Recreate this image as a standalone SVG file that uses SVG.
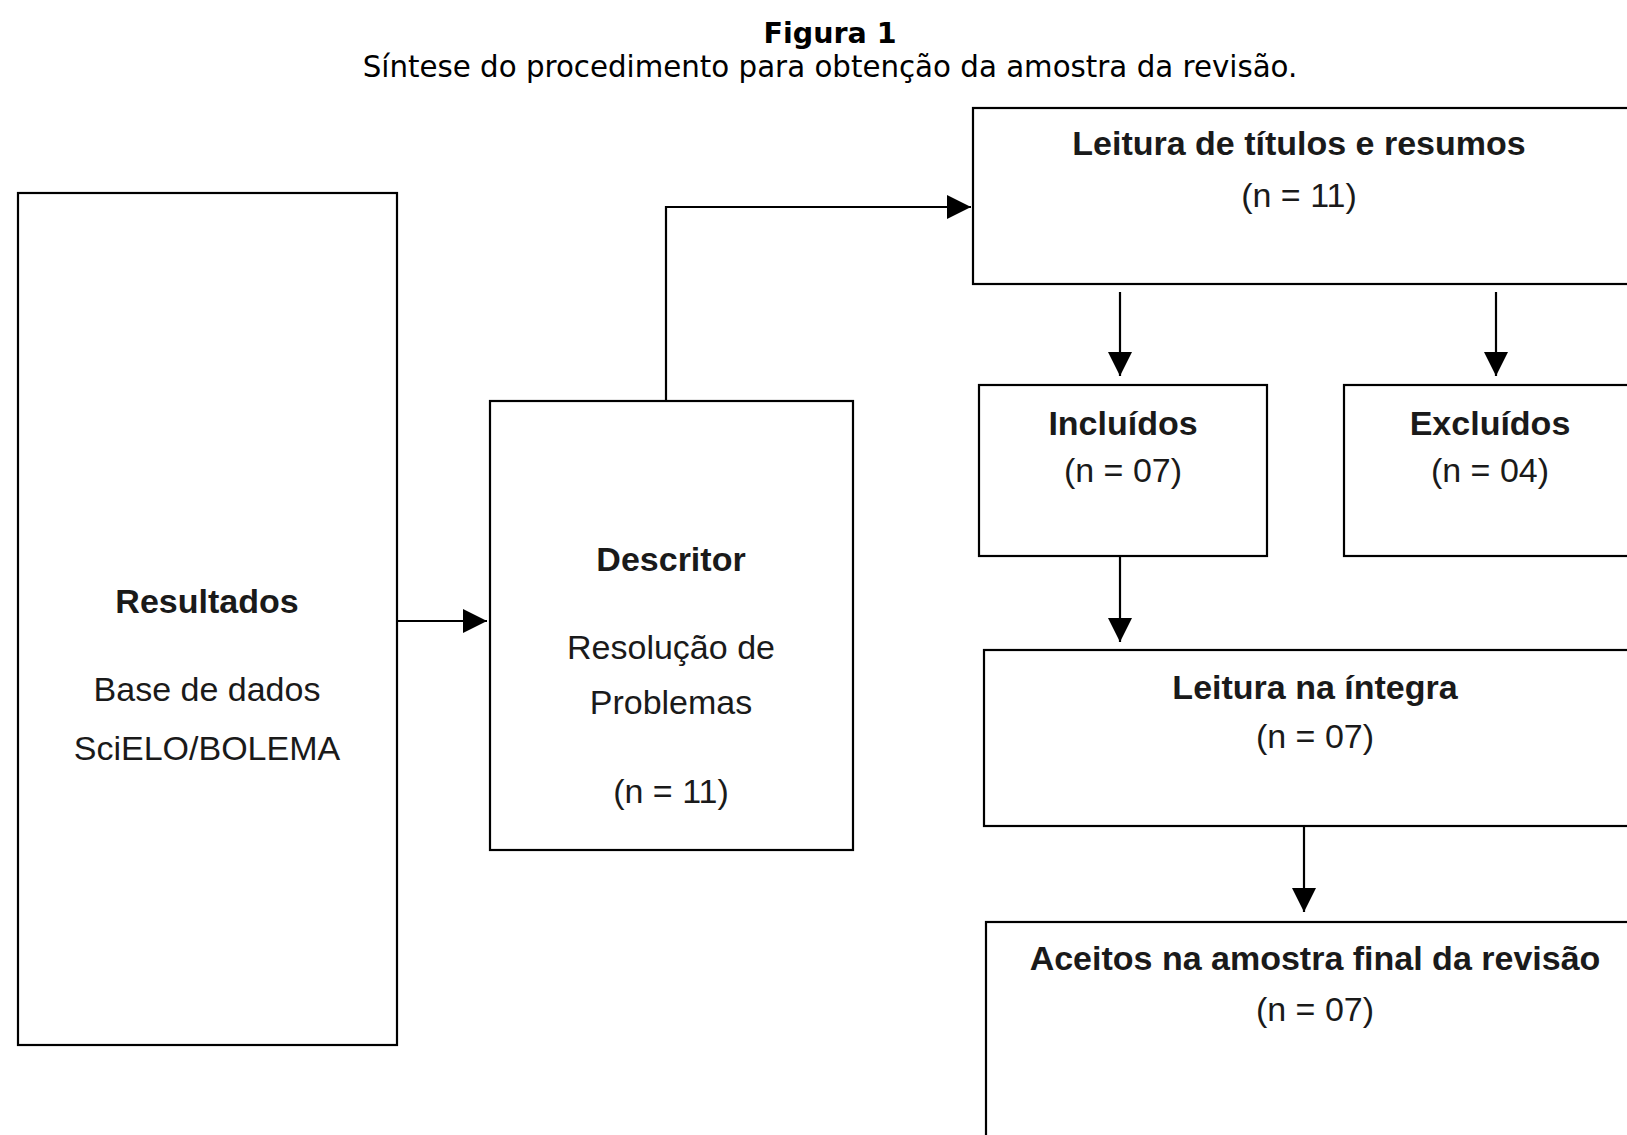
<svg xmlns="http://www.w3.org/2000/svg" width="1627" height="1135" viewBox="0 0 1627 1135">
<style>
.box{fill:#fff;stroke:#000;stroke-width:2.2}
.t{font-family:"Liberation Sans",Arial,sans-serif;font-size:34px;fill:#1a1a1a;text-anchor:middle}
.b{font-weight:bold}
.cap{font-family:"DejaVu Sans",Verdana,sans-serif;font-size:28.5px;fill:#000;text-anchor:middle}
.con{fill:none;stroke:#000;stroke-width:2.2}
</style>
<defs>
<marker id="ah" markerUnits="userSpaceOnUse" markerWidth="26" markerHeight="24" refX="24" refY="12" orient="auto">
<path d="M0,0 L24,12 L0,24 Z" fill="#000"/>
</marker>
</defs>
<rect width="1627" height="1135" fill="#fff"/>
<text class="cap" x="830" y="43" font-weight="bold">Figura 1</text>
<text class="cap" x="830" y="77" style="font-size:29.3px">Síntese do procedimento para obtenção da amostra da revisão.</text>
<g id="resultados">
<rect class="box" x="18" y="193" width="379" height="852"/>
<text class="t b" x="207" y="613">Resultados</text>
<text class="t" x="207" y="701">Base de dados</text>
<text class="t" x="207" y="760">SciELO/BOLEMA</text>
</g>
<g id="descritor">
<rect class="box" x="490" y="401" width="363" height="449"/>
<text class="t b" x="671" y="571">Descritor</text>
<text class="t" x="671" y="659">Resolução de</text>
<text class="t" x="671" y="714">Problemas</text>
<text class="t" x="671" y="803">(n = 11)</text>
</g>
<g id="leitura-titulos">
<rect class="box" x="973" y="108" width="680" height="176"/>
<text class="t b" x="1299" y="155">Leitura de títulos e resumos</text>
<text class="t" x="1299" y="207">(n = 11)</text>
</g>
<g id="incluidos">
<rect class="box" x="979" y="385" width="288" height="171"/>
<text class="t b" x="1123" y="435">Incluídos</text>
<text class="t" x="1123" y="482">(n = 07)</text>
</g>
<g id="excluidos">
<rect class="box" x="1344" y="385" width="300" height="171"/>
<text class="t b" x="1490" y="435">Excluídos</text>
<text class="t" x="1490" y="482">(n = 04)</text>
</g>
<g id="leitura-integra">
<rect class="box" x="984" y="650" width="670" height="176"/>
<text class="t b" x="1315" y="699">Leitura na íntegra</text>
<text class="t" x="1315" y="748">(n = 07)</text>
</g>
<g id="aceitos">
<rect class="box" x="986" y="922" width="670" height="240"/>
<text class="t b" x="1315" y="970">Aceitos na amostra final da revisão</text>
<text class="t" x="1315" y="1021">(n = 07)</text>
</g>
<g id="connectors">
<path class="con" d="M397,621 H487" marker-end="url(#ah)"/>
<path class="con" d="M666,401 V207 H971" marker-end="url(#ah)"/>
<path class="con" d="M1120,292 V376" marker-end="url(#ah)"/>
<path class="con" d="M1496,292 V376" marker-end="url(#ah)"/>
<path class="con" d="M1120,557 V642" marker-end="url(#ah)"/>
<path class="con" d="M1304,826 V912" marker-end="url(#ah)"/>
</g>
</svg>
